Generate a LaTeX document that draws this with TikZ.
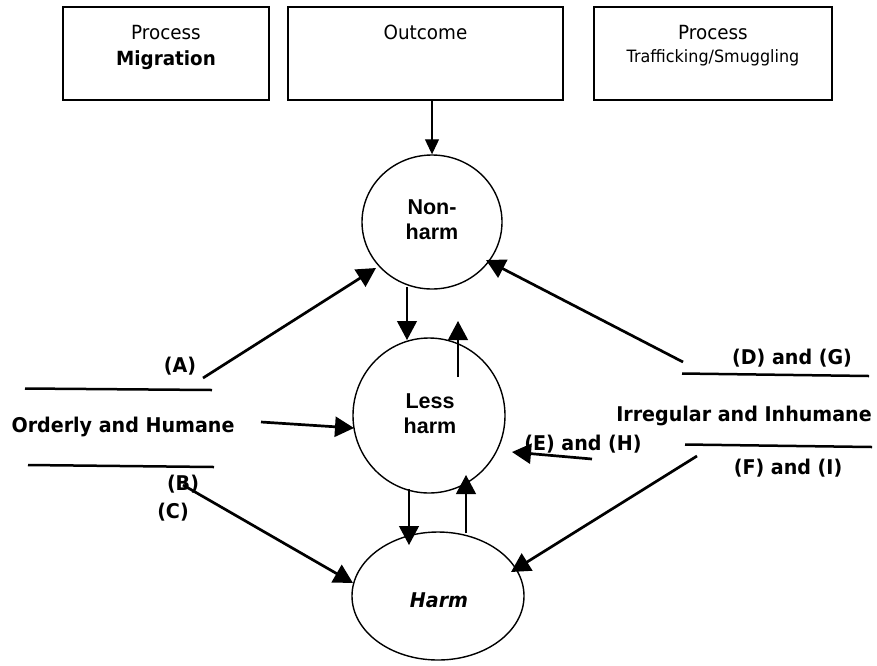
\documentclass[tikz,border=0pt]{standalone}
\usepackage{fontspec}
\usetikzlibrary{arrows.meta,shapes.geometric}
\newfontfamily\tahfont{DejaVu Sans}[FakeStretch=0.94]
\newfontfamily\arfont{Liberation Sans}
\begin{document}
\begin{tikzpicture}[x=1pt,y=-1pt,
  boxstyle/.style={draw,line width=1.6pt,rectangle,inner sep=0pt},
  ovalstyle/.style={draw,line width=1.4pt,ellipse,inner sep=0pt},
  boxtext/.style={anchor=base,inner sep=0pt,font=\tahfont\fontsize{19.5}{23}\selectfont},
  smalltext/.style={anchor=base,inner sep=0pt,font=\tahfont\fontsize{17}{20}\selectfont},
  lbl/.style={anchor=base,inner sep=0pt,font=\tahfont\bfseries\fontsize{20.3}{24}\selectfont},
  circtext/.style={anchor=base,inner sep=0pt,font=\arfont\bfseries\fontsize{21.5}{25}\selectfont},
  thinarr/.style={line width=1.1pt,-{Triangle[length=19pt,width=20pt]}},
  thickarr/.style={line width=2.7pt,-{Triangle[length=19pt,width=20pt]}},
  sepline/.style={line width=2.5pt}]
\useasboundingbox (0,0) rectangle (877,665);
\fill[white] (0,0) rectangle (877,665);

% top boxes
\node[boxstyle,minimum width=206pt,minimum height=93pt] (boxmig) at (166,53.5) {};
\node[boxstyle,minimum width=275pt,minimum height=93pt] (boxout) at (425.5,53.5) {};
\node[boxstyle,minimum width=238pt,minimum height=93pt] (boxtra) at (713,53.5) {};
\node[boxtext] (tmig1) at (166,39) {Process};
\node[boxtext] (tmig2) at (166,65) {\bfseries Migration};
\node[boxtext] (tout) at (425.5,39) {Outcome};
\node[boxtext] (ttra1) at (713,39) {Process};
\node[smalltext] (ttra2) at (713,62) {Trafficking/Smuggling};

% outcome circles
\node[ovalstyle,minimum width=140pt,minimum height=134pt] (nonharm) at (432,222) {};
\node[ovalstyle,minimum width=152pt,minimum height=155pt] (lessharm) at (429,415.5) {};
\node[ovalstyle,minimum width=172pt,minimum height=128pt] (harm) at (438,596) {};
\node[circtext] (tnh1) at (432,214) {Non-};
\node[circtext] (tnh2) at (432,239) {harm};
\node[circtext] (tlh1) at (430,408) {Less};
\node[circtext] (tlh2) at (430,433) {harm};
\node[lbl] (th) at (439,607) {\itshape Harm};

% side labels
\node[lbl] (lA) at (180,372) {(A)};
\node[lbl] (lOH) at (123,432) {Orderly and Humane};
\node[lbl] (lB) at (183,490) {(B)};
\node[lbl] (lC) at (173,518) {(C)};
\node[lbl] (lDG) at (792,364) {(D) and (G)};
\node[lbl] (lIR) at (744,421) {Irregular and Inhumane};
\node[lbl] (lEH) at (583,450) {(E) and (H)};
\node[lbl] (lFI) at (788,474) {(F) and (I)};

% separator lines
\coordinate (s1a) at (25,388.5); \coordinate (s1b) at (212,390);
\coordinate (s2a) at (28,465); \coordinate (s2b) at (214,467);
\coordinate (s3a) at (682,373.5); \coordinate (s3b) at (869,376);
\coordinate (s4a) at (685,444.5); \coordinate (s4b) at (872,447);
\draw[sepline] (s1a) -- (s1b);
\draw[sepline] (s2a) -- (s2b);
\draw[sepline] (s3a) -- (s3b);
\draw[sepline] (s4a) -- (s4b);

% vertical arrows
\draw[line width=1.1pt,-{Triangle[length=15pt,width=14pt]}] (boxout.south -| nonharm.north) -- (nonharm.north);
\coordinate (v1a) at (407,287); \coordinate (v1b) at (407,340);
\coordinate (v2a) at (458,377); \coordinate (v2b) at (458,321);
\coordinate (v3a) at (409,489); \coordinate (v3b) at (409,545);
\coordinate (v4a) at (466,533); \coordinate (v4b) at (466,475);
\draw[thinarr] (v1a) -- (v1b);
\draw[thinarr] (v2a) -- (v2b);
\draw[thinarr] (v3a) -- (v3b);
\draw[thinarr] (v4a) -- (v4b);

% diagonal arrows
\coordinate (dAa) at (203,378); \coordinate (dAb) at (376,268);
\coordinate (dOa) at (261,422); \coordinate (dOb) at (354,428);
\coordinate (dBa) at (183,485); \coordinate (dBb) at (353,583);
\coordinate (dDa) at (683,362); \coordinate (dDb) at (486,260);
\coordinate (dEa) at (592,459); \coordinate (dEb) at (512,452);
\coordinate (dFa) at (697,456); \coordinate (dFb) at (511,572);
\draw[thickarr] (dAa) -- (dAb);
\draw[thickarr] (dOa) -- (dOb);
\draw[thickarr] (dBa) -- (dBb);
\draw[thickarr] (dDa) -- (dDb);
\draw[thickarr] (dEa) -- (dEb);
\draw[thickarr] (dFa) -- (dFb);
\end{tikzpicture}
\end{document}
